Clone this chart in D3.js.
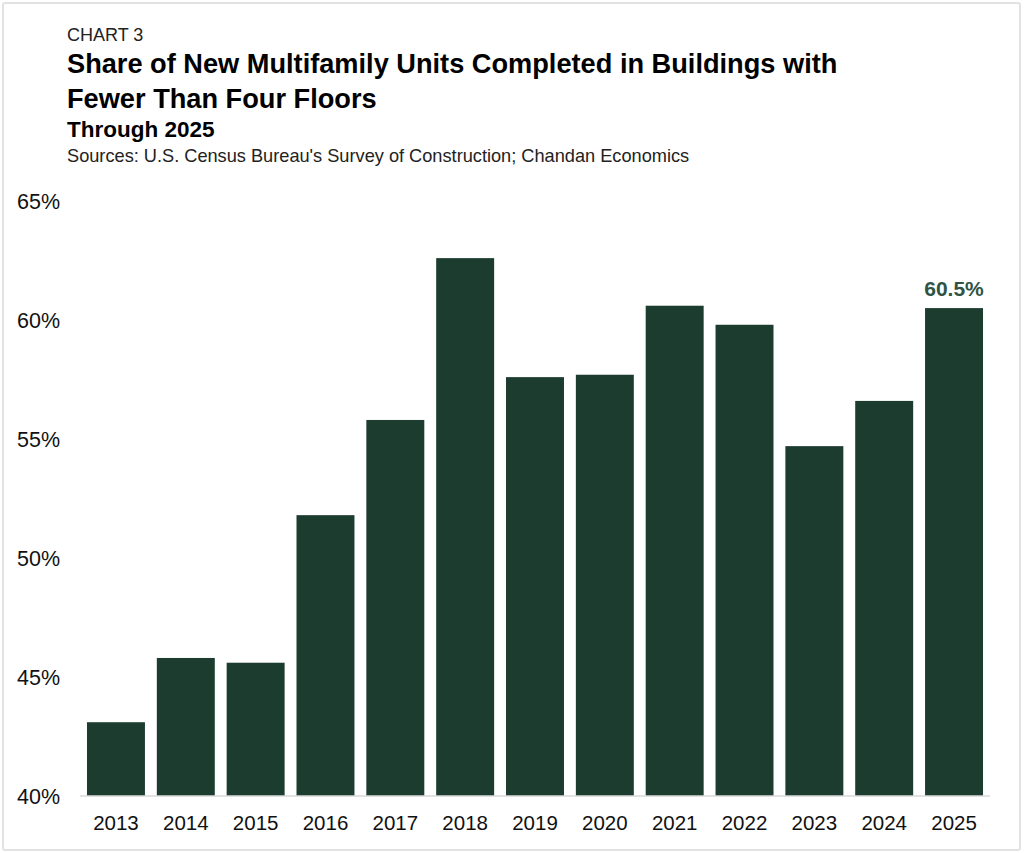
<!DOCTYPE html>
<html>
<head>
<meta charset="utf-8">
<script src="https://cdn.jsdelivr.net/npm/d3@7"></script>
<style>
  body { margin: 0; background: #fff; font-family: "Liberation Sans", Arial, Helvetica, sans-serif; }
  .frame { position: absolute; left: 2px; top: 2px; width: 1015px; height: 845px; border: 2px solid #e2e2e2; border-radius: 3px; }
</style>
</head>
<body>
<div class="frame"></div>
<svg id="chart" width="1024" height="853" style="position:absolute;left:0;top:0"></svg>
<script>
// chart data
var years = ["2013","2014","2015","2016","2017","2018","2019","2020","2021","2022","2023","2024","2025"];
var shares = [43.1, 45.8, 45.6, 51.8, 55.8, 62.6, 57.6, 57.7, 60.6, 59.8, 54.7, 56.6, 60.5];
var yTicks = [40, 45, 50, 55, 60, 65];

var svg = d3.select("#chart");
var margin = {top: 201, left: 80, right: 34, bottom: 57};
var width = 1024 - margin.left - margin.right;
var height = 853 - margin.top - margin.bottom;

// header texts
svg.append("text").attr("x", 67).attr("y", 41)
    .style("font-size", "18px").style("fill", "#222").text("CHART 3");
svg.append("text").attr("x", 67).attr("y", 73)
    .style("font-size", "27.2px").style("font-weight", "bold").style("fill", "#000")
    .text("Share of New Multifamily Units Completed in Buildings with");
svg.append("text").attr("x", 67).attr("y", 108)
    .style("font-size", "27.2px").style("font-weight", "bold").style("fill", "#000")
    .text("Fewer Than Four Floors");
svg.append("text").attr("x", 67).attr("y", 137)
    .style("font-size", "22.5px").style("font-weight", "bold").style("fill", "#000")
    .text("Through 2025");
svg.append("text").attr("x", 67).attr("y", 161.5)
    .style("font-size", "18.2px").style("fill", "#222")
    .text("Sources: U.S. Census Bureau's Survey of Construction; Chandan Economics");

var g = svg.append("g").attr("transform", "translate(" + margin.left + "," + margin.top + ")");

var x = d3.scaleBand().domain(years).range([0, width]).paddingInner(0.17).paddingOuter(0.1);
var y = d3.scaleLinear().domain([40, 65]).range([height, 0]);

// y labels (no axis line)
g.selectAll(".ylab")
    .data(yTicks)
    .enter()
    .append("text")
    .attr("class", "ylab")
    .attr("x", -63)
    .attr("y", d => y(d))
    .attr("dy", "0.35em")
    .style("font-size", "21.5px")
    .style("fill", "#111")
    .text(d => d + "%");

// bars
g.selectAll("rect")
    .data(shares)
    .enter()
    .append("rect")
    .attr("x", (d, i) => x(years[i]))
    .attr("width", x.bandwidth())
    .attr("y", d => y(d))
    .attr("height", d => height - y(d))
    .attr("fill", "#1d3c30");

// baseline
g.append("line")
    .attr("x1", 0).attr("x2", width)
    .attr("y1", height).attr("y2", height)
    .attr("stroke", "#d9d9d9").attr("stroke-width", 1.5);

// x labels
var xAxis = d3.axisBottom(x).tickSize(0).tickPadding(19.5);
var xg = g.append("g").attr("transform", "translate(0," + height + ")").call(xAxis);
xg.select(".domain").remove();
xg.selectAll("text")
    .style("font-family", "Liberation Sans, Arial, sans-serif")
    .style("font-size", "20.5px")
    .style("fill", "#111");

// label on latest bar
var last = shares.length - 1;
g.append("text")
    .attr("x", x(years[last]) + x.bandwidth() / 2)
    .attr("y", y(shares[last]) - 12)
    .attr("text-anchor", "middle")
    .style("font-size", "21px")
    .style("font-weight", "bold")
    .style("fill", "#2f5446")
    .text(shares[last].toFixed(1) + "%");
</script>
</body>
</html>
